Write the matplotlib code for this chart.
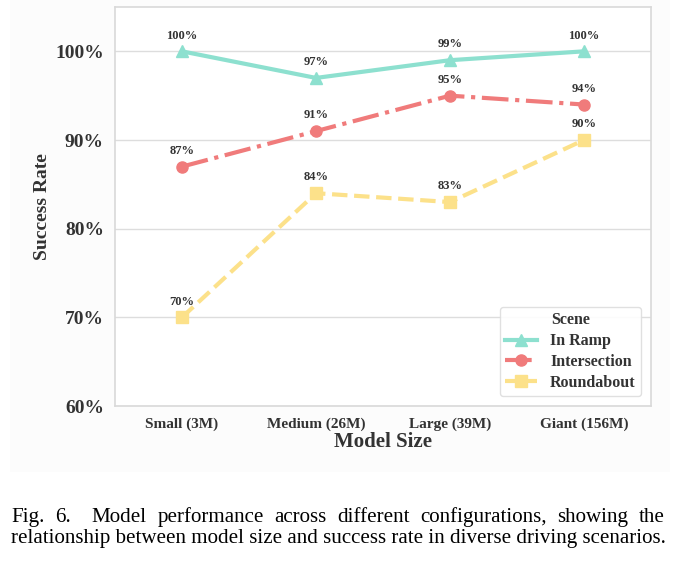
import matplotlib
matplotlib.use('Agg')
import matplotlib.pyplot as plt
from matplotlib.patches import Rectangle
from matplotlib.ticker import FuncFormatter

# Data
model_sizes = ['Small (3M)', 'Medium (26M)', 'Large (39M)', 'Giant (156M)']
in_ramp = [100, 97, 99, 100]
intersection = [87, 91, 95, 94]
roundabout = [70, 84, 83, 90]

series = [
    ('In Ramp', in_ramp, '#8de0cf', '-', '^'),
    ('Intersection', intersection, '#f07b7b', '-.', 'o'),
    ('Roundabout', roundabout, '#fce18a', '--', 's'),
]

plt.rcParams['font.family'] = ['Liberation Serif', 'DejaVu Serif']
text_color = '#333333'

fig = plt.figure(figsize=(6.78, 5.62), dpi=100)
fig.patch.set_facecolor('white')

# light background behind the chart area (as in the embedded figure)
fig.patches.append(Rectangle((10 / 678, 1 - 472 / 562), 660 / 678, 472 / 562,
                             transform=fig.transFigure, facecolor='#fcfcfc',
                             edgecolor='none', zorder=-10))

ax = fig.add_axes([115 / 678, 1 - 406 / 562, 536 / 678, 399 / 562])
ax.set_facecolor('white')

x = list(range(len(model_sizes)))
for name, values, color, ls, marker in series:
    ax.plot(x, values, color=color, linestyle=ls, marker=marker, linewidth=3,
            markersize=8, label=name, zorder=3)
    for xi, v in zip(x, values):
        ax.annotate(f'{v}%', (xi, v), textcoords='offset points', xytext=(0, 7),
                    ha='center', va='bottom', fontsize=9, fontweight='bold',
                    color=text_color)

ax.set_xlim(-0.5, 3.5)
ax.set_ylim(60, 105)
ax.set_yticks([60, 70, 80, 90, 100])
ax.yaxis.set_major_formatter(FuncFormatter(lambda v, p: f'{v:.0f}%'))
ax.set_xticks(x)
ax.set_xticklabels(model_sizes)

ax.grid(axis='y', color='#dddddd', linewidth=1, zorder=0)
ax.grid(axis='x', visible=False)
for s in ax.spines.values():
    s.set_color('#d9d9d9')
    s.set_linewidth(1.2)
ax.tick_params(axis='both', length=0, colors=text_color)
ax.tick_params(axis='y', labelsize=14, pad=8)
ax.tick_params(axis='x', labelsize=11, pad=8)
for lab in ax.get_xticklabels() + ax.get_yticklabels():
    lab.set_fontweight('bold')

ax.set_xlabel('Model Size', fontsize=15, fontweight='bold', color=text_color, labelpad=1)
ax.set_ylabel('Success Rate', fontsize=14, fontweight='bold', color=text_color, labelpad=3)

leg = ax.legend(title='Scene', loc='lower right', fontsize=11.5, title_fontsize=11.5,
                frameon=True, framealpha=0.9, edgecolor='#dddddd',
                handlelength=2.0, borderaxespad=0.6, labelspacing=0.3,
                borderpad=0.35)
leg.get_title().set_fontweight('bold')
leg.get_title().set_color(text_color)
for t in leg.get_texts():
    t.set_fontweight('bold')
    t.set_color(text_color)

# Caption below the chart (justified lines)
left_px, right_px = 11, 665
line1 = 'Fig. 6.  Model performance across different configurations, showing the'
line2 = 'relationship between model size and success rate in diverse driving scenarios.'

fig.canvas.draw()
renderer = fig.canvas.get_renderer()

# size the caption so that the (full) second line spans the text width
probe = fig.text(0, 0, line2, fontsize=10)
w10 = probe.get_window_extent(renderer).width
probe.remove()
cap_size = 10 * (right_px - left_px) / w10


def justified(line, y_px):
    # a double space counts as a double gap
    parts = line.split(' ')
    words, weights = [], []
    for p in parts:
        if p:
            words.append(p)
            weights.append(1)
        elif weights:
            weights[-1] += 1
    weights = weights[:-1]
    widths = []
    for w in words:
        t = fig.text(0, 0, w, fontsize=cap_size)
        widths.append(t.get_window_extent(renderer).width)
        t.remove()
    gap = (right_px - left_px - sum(widths)) / sum(weights)
    pos = left_px
    for i, (w, wd) in enumerate(zip(words, widths)):
        fig.text(pos / 678, 1 - y_px / 562, w, fontsize=cap_size, color='black',
                 ha='left', va='baseline')
        if i < len(weights):
            pos += wd + gap * weights[i]


justified(line1, 522)
fig.text(left_px / 678, 1 - 543 / 562, line2, fontsize=cap_size, color='black',
         ha='left', va='baseline')

fig.savefig('out.png', dpi=100)
